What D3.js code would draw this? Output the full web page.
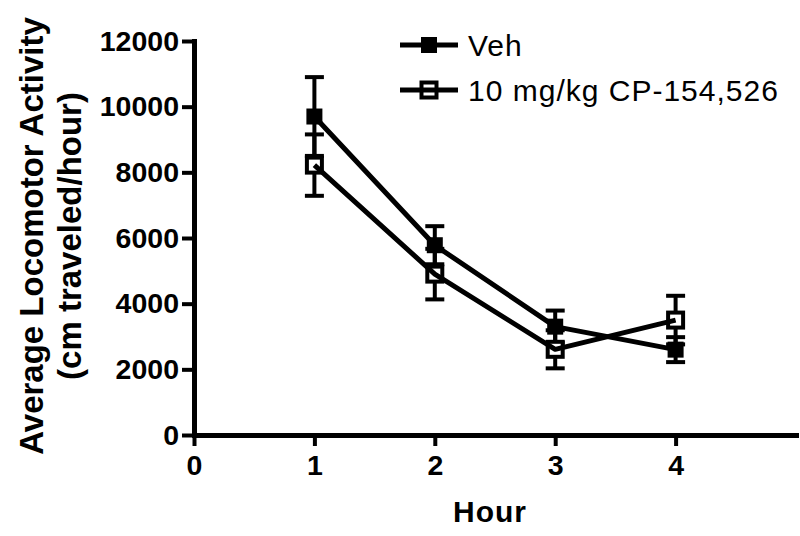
<!DOCTYPE html>
<html>
<head>
<meta charset="utf-8">
<script src="https://cdn.jsdelivr.net/npm/d3@7"></script>
<style>
  html, body { margin: 0; padding: 0; background: #fff; }
  svg { display: block; }
  text { font-family: "Liberation Sans", Arial, sans-serif; fill: #000; }
</style>
</head>
<body>
<svg id="chart" width="800" height="536"></svg>
<script>
// ---- data ----
const hours = [1, 2, 3, 4];
const vehMean = [9700, 5780, 3300, 2600];
const vehSEM  = [1200, 580, 490, 380];
const cpMean  = [8220, 4900, 2610, 3500];
const cpSEM   = [935, 770, 580, 740];
const yTicks = [0, 2000, 4000, 6000, 8000, 10000, 12000];
const xTicks = [0, 1, 2, 3, 4];
const seriesNames = ["Veh", "10 mg/kg CP-154,526"];
const xTitle = "Hour";
const yTitle1 = "Average Locomotor Activity";
const yTitle2 = "(cm traveled/hour)";

// ---- layout ----
const svg = d3.select("#chart");
const plotL = 194, plotR = 796, plotT = 41, plotB = 435;
const x = d3.scaleLinear().domain([0, 5]).range([plotL, plotR]);
const y = d3.scaleLinear().domain([0, 12000]).range([plotB, plotT]);

// axes
const yAxis = svg.append("g").attr("transform", `translate(${plotL},0)`)
  .call(d3.axisLeft(y).tickValues(yTicks).tickSize(12).tickSizeOuter(0).tickPadding(3).tickFormat(d3.format("d")));
const xAxis = svg.append("g").attr("transform", `translate(0,${plotB})`)
  .call(d3.axisBottom(x).tickValues(xTicks).tickSize(11).tickSizeOuter(0).tickPadding(9).tickFormat(d3.format("d")));

[yAxis, xAxis].forEach(g => {
  g.select(".domain").attr("stroke", "#000").attr("stroke-width", 5).attr("stroke-linecap", "square");
  g.selectAll(".tick line").attr("stroke", "#000").attr("stroke-width", 4);
  g.selectAll(".tick text").attr("font-family", "Liberation Sans, Arial, sans-serif")
    .attr("font-weight", "bold").attr("font-size", 28.5).attr("fill", "#000");
});

// titles
svg.append("text").attr("x", 490).attr("y", 522).attr("text-anchor", "middle")
  .attr("font-weight", "bold").attr("font-size", 30).attr("letter-spacing", 1).text(xTitle);
const yt = svg.append("text").attr("transform", "translate(0,236) rotate(-90)")
  .attr("text-anchor", "middle").attr("font-weight", "bold").attr("font-size", 33);
yt.append("tspan").attr("x", 0).attr("y", 43).text(yTitle1);
yt.append("tspan").attr("x", 0).attr("y", 81).text(yTitle2);

// series
const series = [
  { mean: vehMean, sem: vehSEM, open: false },
  { mean: cpMean, sem: cpSEM, open: true }
];
const capW = 19;
const line = d3.line().x((d, i) => x(hours[i])).y(d => y(d));

// error bars
series.forEach(s => {
  const g = svg.append("g");
  s.mean.forEach((m, i) => {
    const cx = x(hours[i]);
    const y1 = y(m + s.sem[i]), y2 = y(m - s.sem[i]);
    g.append("line").attr("x1", cx).attr("x2", cx).attr("y1", y1).attr("y2", y2)
      .attr("stroke", "#000").attr("stroke-width", 4);
    [y1, y2].forEach(yy => g.append("line").attr("x1", cx - capW / 2).attr("x2", cx + capW / 2)
      .attr("y1", yy).attr("y2", yy).attr("stroke", "#000").attr("stroke-width", 4));
  });
});

function marker(g, cx, cy, open) {
  if (open) {
    g.append("rect").attr("x", cx - 7.5).attr("y", cy - 7.5).attr("width", 15).attr("height", 15)
      .attr("fill", "#fff").attr("stroke", "#000").attr("stroke-width", 4);
  } else {
    g.append("rect").attr("x", cx - 8).attr("y", cy - 8).attr("width", 16).attr("height", 16)
      .attr("fill", "#000");
  }
}

// markers
series.forEach(s => {
  const g = svg.append("g");
  s.mean.forEach((m, i) => marker(g, x(hours[i]), y(m), s.open));
});
// lines
series.forEach(s => {
  svg.append("path").datum(s.mean).attr("d", line).attr("fill", "none")
    .attr("stroke", "#000").attr("stroke-width", 5).attr("stroke-linejoin", "round");
});

// legend
const legY = [45, 90];
series.forEach((s, i) => {
  const g = svg.append("g");
  marker(g, 429, legY[i], s.open);
  g.append("line").attr("x1", 400).attr("x2", 458).attr("y1", legY[i]).attr("y2", legY[i])
    .attr("stroke", "#000").attr("stroke-width", 5);
  g.append("text").attr("x", 468).attr("y", legY[i] + 11).attr("font-size", 30)
    .attr("letter-spacing", 1).text(seriesNames[i]);
});
</script>
</body>
</html>
